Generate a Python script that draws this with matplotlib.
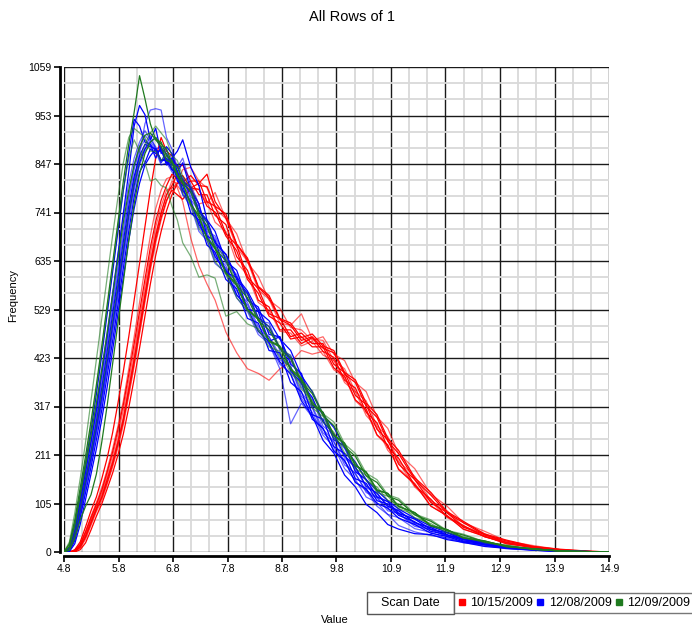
import matplotlib
matplotlib.use('Agg')
import matplotlib.pyplot as plt
from matplotlib.lines import Line2D
from matplotlib.patches import Rectangle

# common value grid (x) for all histogram traces
values = [4.8, 4.9, 5.0, 5.1, 5.2, 5.3, 5.4, 5.5, 5.6, 5.7,
          5.8, 5.9, 6.0, 6.1, 6.2, 6.3, 6.4, 6.5, 6.6, 6.7,
          6.8, 6.9, 7.0, 7.15, 7.3, 7.45, 7.6, 7.8, 8.0, 8.2,
          8.4, 8.6, 8.8, 9.0, 9.2, 9.4, 9.6, 9.8, 10.0, 10.2,
          10.4, 10.6, 10.8, 11.0, 11.3, 11.6, 11.9, 12.2, 12.6, 13.0,
          13.5, 14.0, 14.5, 14.9]

# scan date 10/15/2009
red_rows = [
    [0, 0, 5, 22, 55, 90, 120, 160, 205, 260,
     325, 395, 470, 550, 630, 710, 790, 860, 905, 875,
     865, 840, 845, 810, 810, 765, 755, 695, 670, 600,
     575, 520, 510, 470, 478, 455, 455, 410, 392, 342,
     322, 268, 245, 192, 158, 108, 86, 54, 38, 20,
     11, 4, 1, 0],
    [0, 0, 4, 18, 45, 78, 108, 140, 180, 225,
     275, 330, 400, 470, 545, 620, 690, 750, 790, 815,
     820, 795, 765, 685, 625, 585, 550, 480, 435, 400,
     390, 375, 400, 415, 440, 432, 438, 398, 382, 330,
     308, 255, 232, 182, 150, 100, 80, 50, 35, 18,
     10, 3, 1, 0],
    [0, 0, 2, 12, 35, 65, 95, 120, 158, 195,
     240, 290, 355, 420, 490, 560, 630, 690, 740, 780,
     800, 825, 800, 810, 780, 780, 735, 715, 645, 615,
     550, 535, 485, 485, 455, 468, 438, 425, 375, 358,
     305, 282, 228, 205, 145, 115, 77, 58, 33, 21,
     9, 4, 1, 0],
    [0, 0, 1, 8, 28, 58, 88, 112, 148, 185,
     228, 278, 340, 405, 475, 545, 615, 675, 725, 765,
     795, 805, 835, 840, 810, 795, 750, 728, 665, 635,
     572, 552, 500, 495, 520, 465, 462, 418, 400, 350,
     330, 275, 252, 198, 165, 112, 90, 56, 40, 21,
     12, 5, 1, 0],
    [0, 0, 0, 5, 20, 48, 78, 105, 138, 172,
     212, 258, 315, 378, 445, 515, 585, 648, 700, 745,
     780, 805, 808, 822, 800, 798, 755, 738, 672, 642,
     580, 560, 510, 500, 468, 476, 450, 440, 392, 376,
     325, 300, 248, 222, 162, 130, 88, 67, 39, 26,
     12, 6, 2, 0],
    [0, 0, 3, 15, 42, 72, 102, 130, 170, 210,
     258, 310, 375, 440, 510, 580, 650, 710, 755, 790,
     795, 800, 785, 795, 760, 765, 720, 700, 632, 605,
     545, 528, 482, 478, 450, 460, 430, 418, 370, 350,
     298, 272, 222, 196, 142, 110, 75, 56, 33, 21,
     9, 4, 1, 0],
    [0, 0, 1, 10, 32, 62, 92, 118, 152, 190,
     235, 285, 348, 412, 482, 552, 622, 682, 730, 768,
     790, 780, 770, 795, 805, 825, 765, 730, 672, 638,
     578, 555, 508, 495, 462, 470, 445, 435, 388, 370,
     318, 294, 242, 215, 158, 124, 85, 64, 37, 24,
     11, 5, 1, 0],
    [0, 0, 2, 14, 38, 68, 98, 125, 162, 200,
     245, 295, 360, 425, 495, 565, 635, 695, 742, 778,
     810, 805, 815, 790, 792, 762, 785, 728, 695, 632,
     602, 550, 532, 490, 485, 462, 470, 432, 418, 370,
     350, 295, 270, 215, 182, 126, 100, 64, 45, 24,
     14, 5, 2, 0],
    [0, 0, 3, 16, 44, 75, 104, 135, 175, 218,
     268, 322, 388, 455, 525, 595, 665, 722, 768, 800,
     825, 815, 822, 795, 792, 755, 742, 690, 658, 595,
     565, 515, 500, 465, 470, 448, 448, 402, 384, 332,
     312, 256, 234, 180, 148, 100, 79, 50, 34, 18,
     10, 4, 1, 0],
]

# scan date 12/08/2009
blue_rows = [
    [0, 8, 45, 110, 175, 240, 310, 390, 470, 560,
     650, 740, 830, 930, 975, 955, 900, 925, 870, 885,
     870, 830, 850, 790, 760, 690, 680, 610, 600, 530,
     525, 460, 470, 395, 370, 300, 290, 230, 215, 160,
     150, 112, 105, 80, 66, 45, 38, 24, 18, 9,
     6, 2, 1, 0],
    [0, 3, 30, 85, 145, 200, 265, 330, 405, 485,
     565, 650, 735, 810, 870, 935, 965, 968, 965, 905,
     880, 840, 860, 800, 760, 700, 690, 640, 580, 565,
     505, 500, 440, 430, 360, 335, 275, 255, 205, 185,
     140, 130, 98, 92, 62, 54, 35, 30, 16, 12,
     4, 2, 0, 0],
    [0, 10, 60, 125, 195, 265, 345, 430, 520, 610,
     700, 790, 870, 945, 930, 895, 890, 860, 885, 850,
     860, 810, 800, 740, 725, 670, 655, 595, 575, 510,
     500, 440, 435, 370, 350, 290, 270, 220, 200, 152,
     138, 106, 96, 74, 60, 41, 34, 22, 16, 8,
     5, 1, 0, 0],
    [0, 4, 38, 95, 155, 210, 275, 345, 425, 505,
     585, 665, 745, 815, 860, 880, 910, 880, 885, 850,
     870, 830, 815, 770, 745, 685, 670, 615, 590, 530,
     510, 455, 400, 280, 325, 295, 270, 222, 200, 152,
     135, 100, 82, 58, 44, 36, 31, 20, 15, 7,
     4, 1, 0, 0],
    [0, 2, 25, 75, 130, 185, 245, 310, 385, 460,
     540, 620, 700, 775, 830, 850, 880, 870, 880, 845,
     860, 875, 900, 840, 800, 725, 700, 635, 615, 550,
     535, 475, 470, 410, 390, 320, 305, 245, 232, 175,
     158, 120, 110, 84, 72, 49, 42, 27, 20, 10,
     7, 2, 1, 0],
    [0, 6, 50, 115, 180, 245, 320, 400, 480, 565,
     650, 730, 805, 860, 895, 920, 900, 885, 850, 880,
     840, 825, 780, 765, 710, 690, 640, 620, 560, 540,
     485, 470, 420, 405, 340, 315, 260, 240, 190, 172,
     130, 118, 90, 84, 56, 49, 33, 27, 15, 11,
     5, 2, 0, 0],
    [0, 1, 18, 60, 115, 170, 225, 290, 360, 440,
     520, 600, 680, 750, 805, 845, 865, 880, 855, 860,
     835, 830, 805, 785, 745, 720, 675, 650, 600, 570,
     525, 505, 465, 440, 385, 350, 300, 272, 228, 196,
     158, 134, 112, 94, 74, 56, 43, 31, 21, 12,
     6, 2, 1, 0],
    [0, 5, 42, 100, 165, 225, 295, 370, 450, 530,
     610, 690, 770, 835, 880, 900, 890, 875, 845, 850,
     830, 815, 780, 755, 700, 680, 630, 610, 555, 525,
     475, 455, 410, 390, 335, 305, 255, 230, 182, 158,
     120, 108, 82, 75, 51, 43, 29, 23, 13, 9,
     4, 1, 0, 0],
    [0, 3, 35, 90, 150, 205, 270, 340, 415, 495,
     575, 655, 735, 800, 850, 880, 895, 905, 880, 870,
     845, 845, 810, 795, 745, 725, 675, 650, 595, 565,
     512, 492, 445, 425, 368, 338, 284, 258, 210, 186,
     144, 128, 100, 90, 64, 53, 37, 29, 17, 12,
     5, 2, 0, 0],
    [0, 7, 48, 112, 178, 240, 305, 385, 465, 545,
     625, 705, 780, 845, 885, 910, 895, 880, 850, 865,
     835, 820, 790, 768, 720, 698, 650, 625, 570, 545,
     492, 470, 430, 405, 348, 318, 268, 242, 196, 170,
     134, 120, 94, 84, 60, 49, 34, 27, 16, 11,
     5, 2, 0, 0],
    [0, 4, 40, 98, 160, 220, 285, 358, 438, 518,
     598, 678, 755, 820, 865, 890, 885, 880, 855, 855,
     835, 825, 790, 765, 715, 690, 645, 615, 562, 532,
     482, 458, 415, 388, 330, 298, 244, 216, 168, 142,
     104, 86, 60, 50, 40, 38, 27, 21, 12, 8,
     4, 1, 0, 0],
    [0, 2, 28, 80, 138, 195, 258, 325, 400, 478,
     558, 638, 718, 790, 845, 875, 890, 875, 875, 855,
     860, 830, 818, 776, 755, 705, 684, 630, 606, 550,
     530, 480, 466, 415, 385, 326, 300, 250, 226, 178,
     158, 122, 110, 86, 72, 50, 42, 28, 20, 10,
     6, 2, 1, 0],
]

# scan date 12/09/2009
green_rows = [
    [0, 18, 70, 140, 210, 285, 365, 450, 540, 630,
     720, 810, 890, 960, 1040, 990, 935, 900, 895, 865,
     855, 825, 805, 760, 730, 685, 662, 608, 582, 528,
     508, 462, 450, 400, 380, 326, 305, 256, 238, 190,
     175, 136, 128, 100, 86, 58, 49, 31, 24, 12,
     7, 2, 1, 0],
    [0, 15, 65, 130, 200, 275, 355, 440, 530, 620,
     710, 790, 860, 900, 875, 850, 810, 815, 800, 795,
     755, 725, 675, 645, 600, 605, 598, 515, 525, 498,
     488, 448, 438, 390, 368, 315, 296, 248, 230, 182,
     168, 130, 122, 95, 82, 56, 47, 30, 23, 11,
     7, 2, 0, 0],
    [0, 12, 58, 122, 188, 255, 325, 398, 478, 560,
     640, 720, 790, 845, 885, 910, 915, 900, 885, 855,
     850, 820, 806, 758, 735, 685, 665, 610, 585, 530,
     510, 460, 448, 398, 376, 322, 304, 254, 236, 188,
     174, 134, 128, 99, 86, 57, 49, 31, 24, 12,
     7, 2, 1, 0],
    [0, 6, 40, 95, 155, 215, 280, 350, 425, 505,
     585, 665, 740, 805, 855, 890, 915, 930, 915, 900,
     865, 855, 820, 796, 742, 720, 668, 644, 588, 562,
     510, 492, 448, 428, 375, 352, 302, 284, 236, 215,
     172, 158, 125, 117, 83, 70, 47, 39, 22, 15,
     6, 3, 1, 0],
    [0, 4, 30, 70, 100, 125, 170, 240, 320, 410,
     500, 590, 680, 760, 825, 870, 895, 905, 890, 880,
     850, 840, 810, 786, 736, 712, 662, 636, 582, 555,
     505, 485, 444, 422, 372, 346, 298, 276, 230, 209,
     166, 152, 122, 113, 81, 67, 46, 37, 22, 14,
     6, 2, 1, 0],
    [0, 22, 85, 160, 240, 330, 420, 510, 600, 690,
     775, 850, 905, 925, 915, 905, 875, 875, 855, 870,
     840, 825, 785, 758, 706, 682, 634, 606, 555, 528,
     482, 464, 426, 404, 356, 331, 284, 262, 216, 196,
     155, 142, 113, 105, 75, 62, 42, 34, 20, 13,
     5, 2, 0, 0],
]

scan_dates = ['10/15/2009', '12/08/2009', '12/09/2009']
colors = ['#ff0000', '#0000ff', '#1f7a1f']

x_ticks = [4.8, 5.81, 6.82, 7.83, 8.84, 9.85, 10.86, 11.87, 12.88, 13.89, 14.9]
x_labels = ['4.8', '5.8', '6.8', '7.8', '8.8', '9.8', '10.9', '11.9', '12.9', '13.9', '14.9']
y_ticks = [0, 105.9, 211.8, 317.7, 423.6, 529.5, 635.4, 741.3, 847.2, 953.1, 1059]
y_labels = ['0', '105', '211', '317', '423', '529', '635', '741', '847', '953', '1059']

plt.rcParams['font.family'] = ['Liberation Sans', 'DejaVu Sans']

fig = plt.figure(figsize=(6.92, 6.28), dpi=100)
ax = fig.add_axes([64 / 692, 76 / 628, 545 / 692, 485 / 628])

for rows, c in zip([red_rows, blue_rows, green_rows], colors):
    for i, r in enumerate(rows):
        ax.plot(values, r, color=c, lw=0.9, alpha=1.0 if i % 2 == 0 else 0.6)

ax.set_xlim(4.8, 14.9)
ax.set_ylim(0, 1059)
ax.set_xticks(x_ticks)
ax.set_xticklabels(x_labels)
ax.set_yticks(y_ticks)
ax.set_yticklabels(y_labels)

minor_x = []
for a, b in zip(x_ticks[:-1], x_ticks[1:]):
    minor_x += [a + (b - a) / 3, a + 2 * (b - a) / 3]
minor_y = []
for a, b in zip(y_ticks[:-1], y_ticks[1:]):
    minor_y += [a + (b - a) / 3, a + 2 * (b - a) / 3]
ax.set_xticks(minor_x, minor=True)
ax.set_yticks(minor_y, minor=True)

ax.set_axisbelow(True)
ax.grid(which='minor', color='#d9d9d9', lw=1.3)
ax.grid(which='major', color='#1a1a1a', lw=1.0)
ax.tick_params(which='minor', length=0)
ax.tick_params(which='major', length=4, width=1.2, labelsize=7.5, pad=2)

for s in ['top', 'right']:
    ax.spines[s].set_visible(False)
for s in ['left', 'bottom']:
    ax.spines[s].set_linewidth(2)
    ax.spines[s].set_position(('outward', 3))

fig.text(0.508, 1 - 17 / 628, 'All Rows of 1', ha='center', va='center', fontsize=10.5)
fig.text(13 / 692, 1 - 296 / 628, 'Frequency', rotation=90, ha='center', va='center', fontsize=8)
fig.text(335 / 692, 1 - 620 / 628, 'Value', ha='center', va='center', fontsize=8)

# legend: "Scan Date" box + entries box
fig.patches.append(Rectangle((367 / 692, 1 - 614 / 628), 87 / 692, 22 / 628,
                             transform=fig.transFigure, fill=False, edgecolor='#555555', lw=1))
fig.text(410 / 692, 1 - 603 / 628, 'Scan Date', ha='center', va='center', fontsize=9)
handles = [Line2D([], [], ls='none', marker='s', markersize=5, color=c) for c in colors]
leg = fig.legend(handles, scan_dates, ncol=3, loc='center left',
                 bbox_to_anchor=(454 / 692, 1 - 603 / 628), frameon=True, fancybox=False,
                 edgecolor='#555555', fontsize=9, handlelength=0.6, handletextpad=0.4,
                 columnspacing=0.25, borderpad=0.3, borderaxespad=0)
leg.get_frame().set_linewidth(1)

fig.savefig('out.png', dpi=100)
